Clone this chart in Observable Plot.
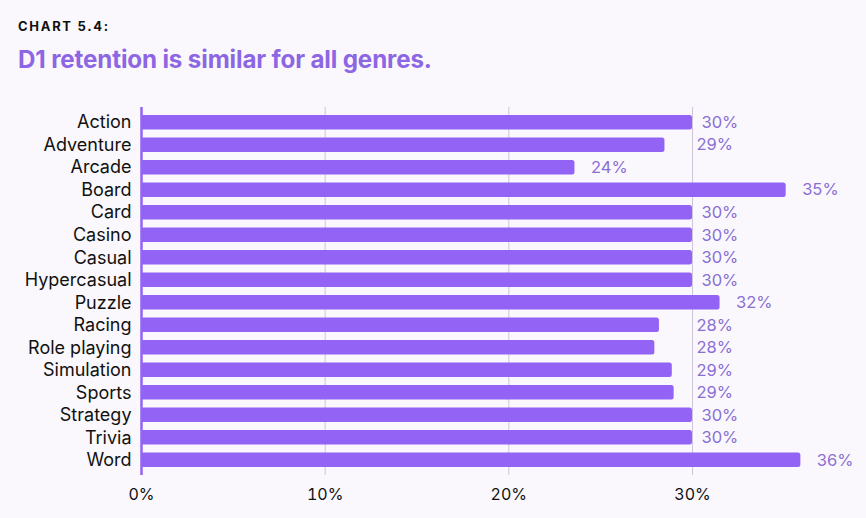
<!DOCTYPE html>
<html>
<head>
<meta charset="utf-8">
<script src="https://cdn.jsdelivr.net/npm/d3@7"></script>
<script src="https://cdn.jsdelivr.net/npm/@observablehq/plot@0.6"></script>
<style>
  html, body { margin: 0; padding: 0; background: #faf8fc; }
  body { width: 866px; height: 518px; position: relative; overflow: hidden; font-family: Inter, "Noto Sans", sans-serif; }
  #kicker { position: absolute; left: 18px; top: 18px; font-size: 13px; font-weight: 700; letter-spacing: 1.7px; color: #111; }
  #title { position: absolute; left: 18px; top: 45px; font-size: 24.2px; font-weight: 700; color: #8d66e4; letter-spacing: -0.15px; }
  #chart { position: absolute; left: 0; top: 91px; }
</style>
</head>
<body>
<div id="kicker">CHART 5.4:</div>
<div id="title">D1 retention is similar for all genres.</div>
<div id="chart"></div>
<script>
const genres = ["Action","Adventure","Arcade","Board","Card","Casino","Casual","Hypercasual","Puzzle","Racing","Role playing","Simulation","Sports","Strategy","Trivia","Word"];
const retention = [30.0, 28.5, 23.6, 35.1, 30.0, 30.0, 30.0, 30.0, 31.5, 28.2, 27.95, 28.9, 29.0, 30.0, 30.0, 35.9];
const xTicks = [0, 10, 20, 30];

const data = genres.map((g, i) => ({genre: g, value: retention[i]}));
const fmt = v => Math.round(v) + "%";
const barColor = "#9263f5";
const labelColor = "#8a6fd3";

const atThirty = data.filter(d => d.value >= 29.9 && d.value < 30.5);
const nearThirty = data.filter(d => d.value >= 27 && d.value < 29.9);
const others = data.filter(d => d.value < 27 || d.value >= 30.5);

const chart = Plot.plot({
  width: 866,
  height: 425,
  marginLeft: 141,
  marginRight: 174,
  marginTop: 16,
  marginBottom: 41,
  style: { background: "transparent", fontFamily: "Inter, 'Noto Sans', sans-serif", fontSize: "16px", color: "#111", overflow: "visible" },
  x: { domain: [0, 30], ticks: xTicks, tickFormat: d => d + "%", label: null },
  y: { domain: genres, padding: 0.35, round: false, label: null },
  marks: [
    Plot.gridX(xTicks.filter(t => t > 0), { stroke: "#cdc6da", strokeOpacity: 1, strokeWidth: 1 }),
    Plot.barX(data, { y: "genre", x: "value", fill: barColor, rx: 2.5 }),
    Plot.ruleX([0], { stroke: barColor, strokeWidth: 2.5 }),
    Plot.text(atThirty, { y: "genre", x: () => 30, text: d => fmt(d.value), textAnchor: "start", dx: 9, fill: labelColor, fontSize: 16.5 }),
    Plot.text(nearThirty, { y: "genre", x: () => 30, text: d => fmt(d.value), textAnchor: "start", dx: 4, fill: labelColor, fontSize: 16.5 }),
    Plot.text(others, { y: "genre", x: "value", text: d => fmt(d.value), textAnchor: "start", dx: 16, fill: labelColor, fontSize: 16.5 }),
    Plot.axisY({ tickSize: 0, tickPadding: 10, fontSize: 18, fill: "#111", label: null }),
    Plot.axisX({ ticks: xTicks, tickFormat: d => d + "%", tickSize: 0, tickPadding: 13, fontSize: 16, fill: "#111", label: null })
  ]
});
document.getElementById("chart").appendChild(chart);
</script>
</body>
</html>
